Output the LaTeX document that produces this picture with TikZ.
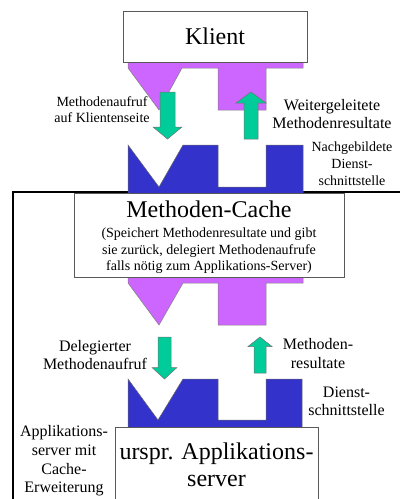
\documentclass[tikz,border=0pt]{standalone}
\usepackage{fontspec}
\setmainfont{Liberation Serif}
\definecolor{lila}{RGB}{204,102,255}
\definecolor{blau}{RGB}{51,51,204}
\definecolor{gruen}{RGB}{0,204,153}
\begin{document}
\begin{tikzpicture}[x=1pt,y=-1pt,
  iface/.style={fill=blau, draw=black!60, line width=0.5pt},
  plug/.style={fill=lila, draw=black!50, line width=0.5pt},
  garrow/.style={fill=gruen, draw=black!55, line width=0.5pt},
  box/.style={draw=black!65, line width=0.8pt, fill=white, align=center},
  lbl/.style={align=center, inner sep=0pt, anchor=north},
  fsm/.style={font=\fontsize{14}{16}\selectfont},
  fmd/.style={font=\fontsize{16}{18}\selectfont}]
\useasboundingbox (0,0) rectangle (400,499);
% outer frame
\draw[line width=1.2pt] (13,499) -- (13,192) -- (400,192);
% interfaces (blue)
\draw[iface] (128,145) -- (159,187) -- (183,145) -- (218,145) -- (218,187) -- (266,187) -- (266,145) -- (303,145) -- (303,196) -- (128,196) -- cycle;
\draw[iface] (128,379) -- (158,420) -- (183,379) -- (218,379) -- (218,420) -- (266,420) -- (266,379) -- (302,379) -- (302,430) -- (128,430) -- cycle;
% plugs (purple)
\draw[plug] (128,58) -- (128,68) -- (159,110) -- (182,68) -- (218,68) -- (218,110) -- (266,110) -- (266,68) -- (303,68) -- (303,58) -- cycle;
\draw[plug] (128,273) -- (128,283) -- (159,325) -- (183,283) -- (218,283) -- (218,325) -- (266,325) -- (266,283) -- (303,283) -- (303,273) -- cycle;
% boxes
\node[box, minimum width=184pt, minimum height=51pt, font=\fontsize{24}{27}\selectfont] (klient) at (215,36.5) {Klient};
\node[box, minimum width=270pt, minimum height=84pt, inner sep=0pt, font=\fontsize{14}{16.5}\selectfont] (cache) at (209,235)
  {{\fontsize{24}{24}\selectfont\rule{0pt}{22pt}Methoden-Cache}\\[3.5pt]
   (Speichert Methodenresultate und gibt\\
   sie zurück, delegiert Methodenaufrufe\\
   falls nötig zum Applikations-Server)};
\node[box, anchor=north, minimum width=203pt, inner xsep=2pt, inner ysep=13.1pt, font=\fontsize{24}{27}\selectfont] (server) at (216.5,427)
  {\strut urspr. Applikations-\\server\strut};
% green arrows
\draw[garrow] (160,92) -- (175,92) -- (175,127) -- (182,127) -- (167.5,139) -- (153,127) -- (160,127) -- cycle;
\draw[garrow] (244,139) -- (258,139) -- (258,103) -- (266,103) -- (251,92) -- (236,103) -- (244,103) -- cycle;
\draw[garrow] (158,337) -- (171,337) -- (171,367.5) -- (177,367.5) -- (164.5,379) -- (152,367.5) -- (158,367.5) -- cycle;
\draw[garrow] (254,373) -- (266,373) -- (266,346.5) -- (272,346.5) -- (260,337) -- (248,346.5) -- (254,346.5) -- cycle;
% labels
\node[lbl, fsm] (l1) at (102,94.8) {\strut Methodenaufruf\\auf Klientenseite};
\node[lbl, fmd] (l2) at (332,97.4) {\strut Weitergeleitete\\Methodenresultate};
\node[lbl, font=\fontsize{14}{17}\selectfont] (l3) at (352,139.8) {\strut Nachgebildete\\Dienst-\\schnittstelle};
\node[lbl, fmd] (l4) at (95,338.4) {\strut Delegierter\\Methodenaufruf};
\node[lbl, font=\fontsize{16}{19}\selectfont] (l5) at (318,335.7) {\strut Methoden-\\resultate};
\node[lbl, fmd] (l6) at (346.5,384.4) {\strut Dienst-\\schnittstelle};
\node[lbl, font=\fontsize{16}{18.6}\selectfont] (l7) at (64,423.7) {\strut Applikations-\\server mit\\Cache-\\Erweiterung};
\end{tikzpicture}
\end{document}
